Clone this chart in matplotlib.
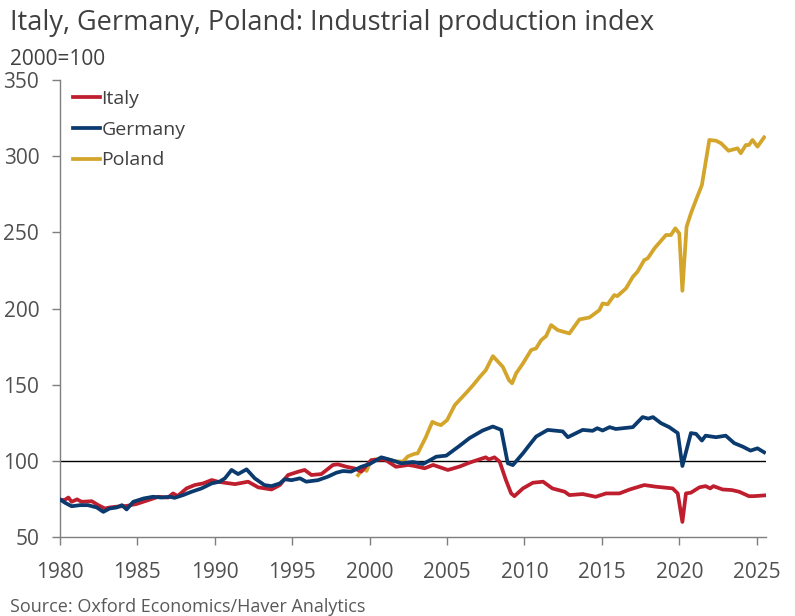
import matplotlib
matplotlib.use("Agg")
import matplotlib.pyplot as plt

plt.rcParams['font.family'] = ['Open Sans', 'DejaVu Sans']

italy_x = [1980.0, 1980.3, 1980.54, 1980.75, 1981.1, 1981.4, 1982.05, 1982.47, 1982.9, 1983.23,
           1983.66, 1984.3, 1984.95, 1985.7, 1986.34, 1986.98, 1987.3, 1987.6, 1988.17, 1988.7,
           1989.25, 1989.8, 1990.2, 1990.65, 1991.3, 1992.15, 1992.8, 1993.66, 1994.2, 1994.73,
           1995.4, 1995.8, 1996.24, 1996.88, 1997.63, 1997.95, 1998.5, 1999.03, 1999.46, 2000.1,
           2000.97, 2001.7, 2002.5, 2002.9, 2003.55, 2004.1, 2005.05, 2005.8, 2006.45, 2007.1,
           2007.5, 2007.7, 2008.06, 2008.4, 2008.8, 2009.14, 2009.35, 2009.9, 2010.54, 2011.2,
           2011.8, 2012.6, 2012.9, 2013.76, 2014.6, 2015.27, 2016.13, 2016.8, 2017.74, 2018.5,
           2019.57, 2019.9, 2020.2, 2020.43, 2020.75, 2021.3, 2021.7, 2022.0, 2022.2, 2022.8,
           2023.4, 2023.87, 2024.5, 2024.8, 2025.5]
italy_y = [74.4, 74.4, 76, 73.2, 74.8, 73.2, 73.6, 71, 68.8, 69.5,
           70, 70.5, 71.8, 74.3, 76.5, 76, 78.7, 77, 82, 84.2,
           85.3, 87.5, 86.4, 85.7, 84.8, 86.4, 82.7, 81.3, 84.2, 90.8,
           93, 94.1, 90.8, 91.4, 97.4, 97.8, 96.2, 95.1, 93, 100.6,
           101, 96.2, 97.4, 96.7, 95.2, 97.4, 94.1, 96.3, 98.9, 101.1,
           102.4, 101, 102.4, 99.5, 87.5, 78.7, 76.9, 82, 85.7, 86.4,
           82, 79.8, 77.6, 78.3, 76.5, 78.7, 78.7, 81.3, 84.2, 83.1,
           82, 78.7, 60, 78.7, 79.2, 82.7, 83.5, 82, 83.5, 81.3,
           80.9, 79.8, 76.9, 76.9, 77.4]

germany_x = [1980.0, 1980.32, 1980.75, 1981.3, 1981.8, 1982.37, 1982.8, 1983.2, 1983.66, 1984.0,
             1984.3, 1984.73, 1985.4, 1986.0, 1986.56, 1987.1, 1987.4, 1987.95, 1988.5, 1989.14,
             1989.8, 1990.3, 1990.65, 1991.08, 1991.5, 1992.05, 1992.58, 1993.2, 1993.66, 1994.2,
             1994.5, 1994.95, 1995.5, 1995.9, 1996.66, 1997.3, 1997.85, 1998.28, 1998.8, 1999.46,
             2000.0, 2000.75, 2001.4, 2002.05, 2002.8, 2003.45, 2004.3, 2004.95, 2005.8, 2006.45,
             2007.3, 2007.96, 2008.5, 2008.92, 2009.25, 2009.9, 2010.32, 2010.75, 2011.5, 2012.47,
             2012.8, 2013.76, 2014.4, 2014.7, 2015.05, 2015.5, 2015.9, 2017.0, 2017.63, 2018.0,
             2018.3, 2018.82, 2019.35, 2019.9, 2020.2, 2020.75, 2021.08, 2021.46, 2021.7, 2022.37,
             2023.0, 2023.55, 2024.1, 2024.6, 2025.05, 2025.48]
germany_y = [74.8, 72.6, 70.3, 71, 71, 69.5, 66.6, 68.8, 69.5, 71,
             68.2, 73.2, 75.4, 76.5, 76, 76.5, 75.8, 77.6, 79.8, 82,
             85.3, 86.4, 88.6, 94.1, 91.4, 94.5, 88.6, 84.2, 83.5, 85.3,
             88, 87.4, 88.6, 86.4, 87.4, 89.7, 92.3, 93.4, 93, 96.2,
             98, 102.4, 100.6, 98.5, 99.3, 98, 102.8, 103.5, 109.9, 115,
             120, 122.6, 120.4, 98.5, 97.3, 105, 110.5, 116, 120.4, 119.4,
             115.6, 120.4, 119.8, 121.5, 120, 122.2, 121, 122.2, 128.8, 127.8,
             128.8, 124.8, 122.2, 118.3, 96.7, 118.3, 117.8, 113.4, 116.6, 115.6,
             116.6, 111.7, 109.4, 106.8, 108.3, 105.7]

poland_x = [1999.25, 1999.57, 1999.8, 2000.0, 2000.3, 2000.97, 2001.6, 2002.15, 2002.47, 2002.9,
            2003.1, 2003.6, 2004.05, 2004.3, 2004.6, 2005.0, 2005.5, 2006.3, 2006.7, 2007.1,
            2007.5, 2007.96, 2008.6, 2009.0, 2009.2, 2009.46, 2009.9, 2010.43, 2010.75, 2011.08,
            2011.4, 2011.72, 2012.15, 2012.9, 2013.55, 2014.2, 2014.84, 2015.05, 2015.37, 2015.8,
            2016.0, 2016.56, 2017.0, 2017.3, 2017.74, 2017.96, 2018.4, 2019.14, 2019.46, 2019.74,
            2020.0, 2020.2, 2020.47, 2020.75, 2021.08, 2021.46, 2021.94, 2022.37, 2022.7, 2023.18,
            2023.76, 2023.97, 2024.3, 2024.5, 2024.73, 2025.05, 2025.48]
poland_y = [90.7, 95, 93.5, 98.4, 101, 101.6, 99.8, 99.6, 103, 104.7,
            105, 115, 125.7, 124.5, 123.5, 126.8, 136.7, 145.4, 150, 155,
            159.6, 168.8, 161.8, 153, 151, 157.5, 164, 172.8, 173.9, 179.3,
            182, 189.2, 185.9, 183.7, 192.9, 194.2, 199, 203.4, 202.8, 208.9,
            208.2, 213.3, 220.9, 224.2, 231.9, 233, 239.6, 248.3, 248.3, 252.7,
            249.4, 211.7, 253.7, 262.5, 271.3, 281.1, 310.7, 310.2, 308.5, 303.6,
            305.2, 302, 307.4, 307.4, 310.7, 306.3, 312.4]

x_ticks = [1980, 1985, 1990, 1995, 2000, 2005, 2010, 2015, 2020, 2025]
y_ticks = [50, 100, 150, 200, 250, 300, 350]

text_col = '#505050'
spine_col = '#7f7f7f'

fig = plt.figure(figsize=(7.95, 6.16), dpi=100)
ax = fig.add_axes([0.0755, 0.128, 0.888, 0.742])

ax.axhline(100, color='black', lw=1.0, zorder=1)
ax.plot(italy_x, italy_y, color='#BE1E2D', lw=2.7, label='Italy', zorder=3)
ax.plot(germany_x, germany_y, color='#0B3A6E', lw=2.7, label='Germany', zorder=4)
ax.plot(poland_x, poland_y, color='#D4A52B', lw=2.7, label='Poland', zorder=2)

ax.set_xlim(1980, 2025.6)
ax.set_ylim(50, 350)
ax.set_xticks(x_ticks)
ax.set_yticks(y_ticks)
ax.tick_params(axis='both', colors=spine_col, labelcolor=text_col, labelsize=15,
               length=6, width=1, direction='out')
ax.tick_params(axis='x', pad=12)
ax.tick_params(axis='y', pad=9)
for s in ['top', 'right']:
    ax.spines[s].set_visible(False)
for s in ['left', 'bottom']:
    ax.spines[s].set_color(spine_col)
    ax.spines[s].set_linewidth(1)

h, l = ax.get_legend_handles_labels()
leg = ax.legend(h, l, loc='upper left', bbox_to_anchor=(0.005, 1.0), frameon=False,
                fontsize=14, handlelength=1.35, handletextpad=0.1, labelspacing=0.66,
                borderaxespad=0.1)
for t in leg.get_texts():
    t.set_color('#404040')

fig.text(0.012, 0.963, 'Italy, Germany, Poland: Industrial production index', fontsize=19.5,
         color='#404040', va='center', ha='left')
fig.text(0.012, 0.903, '2000=100', fontsize=15, color='#404040', va='center', ha='left')
fig.text(0.012, 0.015, 'Source: Oxford Economics/Haver Analytics', fontsize=13,
         color='#595959', va='center', ha='left')

fig.savefig('out.png', dpi=100)
